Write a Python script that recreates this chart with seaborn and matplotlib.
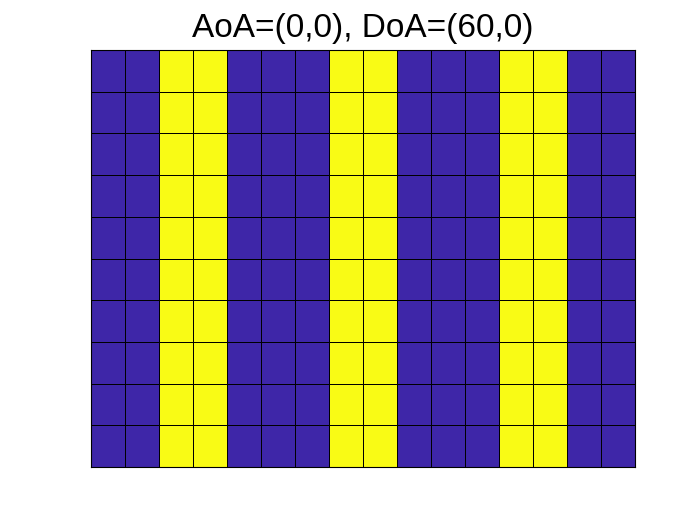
import numpy as np
import pandas as pd
import seaborn as sns
import matplotlib
matplotlib.use("Agg")
import matplotlib.pyplot as plt
from matplotlib.colors import ListedColormap

title = "AoA=(0,0), DoA=(60,0)"
n_rows = 10
column_pattern = [0, 0, 1, 1, 0, 0, 0, 1, 1, 0, 0, 0, 1, 1, 0, 0]
colors = ["#3e26a8", "#f9fb15"]

matrix = pd.DataFrame([column_pattern for _ in range(n_rows)])

sns.set_style("white")
plt.rcParams['font.family'] = ['Liberation Sans', 'DejaVu Sans']

fig = plt.figure(figsize=(7.0, 5.26), dpi=100)
ax = fig.add_axes([91 / 700, (526 - 467) / 526, 544 / 700, 417 / 526])
sns.heatmap(matrix, cmap=ListedColormap(colors), vmin=0, vmax=1, cbar=False,
            linewidths=0.7, linecolor="black", ax=ax,
            xticklabels=False, yticklabels=False)
for s in ax.spines.values():
    s.set_visible(True)
    s.set_color("black")
    s.set_linewidth(0.8)
ax.set_xlabel("")
ax.set_ylabel("")
fig.text(363 / 700, 1 - 37 / 526, title, ha="center", va="baseline", fontsize=24, color="black")
fig.savefig("out.png", dpi=100)
